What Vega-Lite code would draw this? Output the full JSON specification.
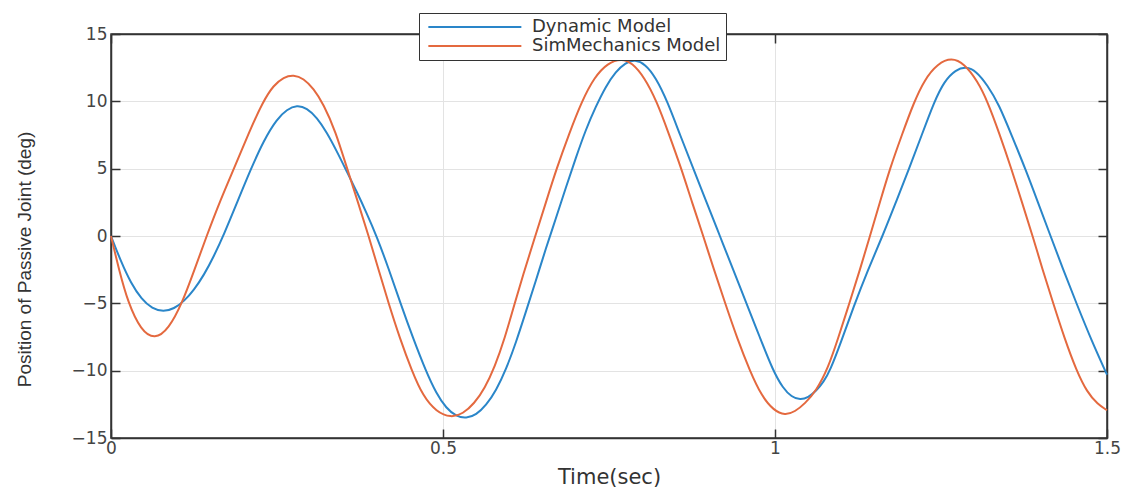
{
  "$schema": "https://vega.github.io/schema/vega-lite/v6.json",
  "width": 996,
  "height": 404,
  "autosize": {"type": "none"},
  "padding": {"left": 111, "top": 34, "right": 22, "bottom": 50},
  "background": "white",
  "config": {
    "view": {"stroke": "#333333", "strokeWidth": 1.5},
    "font": "DejaVu Sans"
  },
  "datasets": {
    "dyn": [
      {"t": 0.000, "deg": 0.0, "model": "Dynamic Model"}, {"t": 0.015, "deg": -1.9, "model": "Dynamic Model"}, {"t": 0.030, "deg": -3.5, "model": "Dynamic Model"}, {"t": 0.046, "deg": -4.7, "model": "Dynamic Model"},
      {"t": 0.062, "deg": -5.4, "model": "Dynamic Model"}, {"t": 0.079, "deg": -5.63, "model": "Dynamic Model"}, {"t": 0.095, "deg": -5.4, "model": "Dynamic Model"}, {"t": 0.110, "deg": -4.85, "model": "Dynamic Model"},
      {"t": 0.125, "deg": -4.0, "model": "Dynamic Model"}, {"t": 0.140, "deg": -2.9, "model": "Dynamic Model"}, {"t": 0.155, "deg": -1.5, "model": "Dynamic Model"}, {"t": 0.170, "deg": 0.1, "model": "Dynamic Model"},
      {"t": 0.190, "deg": 2.5, "model": "Dynamic Model"}, {"t": 0.210, "deg": 4.9, "model": "Dynamic Model"}, {"t": 0.230, "deg": 7.1, "model": "Dynamic Model"}, {"t": 0.250, "deg": 8.7, "model": "Dynamic Model"},
      {"t": 0.265, "deg": 9.4, "model": "Dynamic Model"}, {"t": 0.280, "deg": 9.72, "model": "Dynamic Model"}, {"t": 0.295, "deg": 9.5, "model": "Dynamic Model"}, {"t": 0.310, "deg": 8.8, "model": "Dynamic Model"},
      {"t": 0.325, "deg": 7.7, "model": "Dynamic Model"}, {"t": 0.340, "deg": 6.3, "model": "Dynamic Model"}, {"t": 0.355, "deg": 4.8, "model": "Dynamic Model"}, {"t": 0.370, "deg": 3.3, "model": "Dynamic Model"},
      {"t": 0.385, "deg": 1.7, "model": "Dynamic Model"}, {"t": 0.400, "deg": 0.0, "model": "Dynamic Model"}, {"t": 0.418, "deg": -2.4, "model": "Dynamic Model"}, {"t": 0.436, "deg": -5.0, "model": "Dynamic Model"},
      {"t": 0.455, "deg": -7.6, "model": "Dynamic Model"}, {"t": 0.474, "deg": -10.0, "model": "Dynamic Model"}, {"t": 0.490, "deg": -11.7, "model": "Dynamic Model"}, {"t": 0.505, "deg": -12.8, "model": "Dynamic Model"},
      {"t": 0.520, "deg": -13.4, "model": "Dynamic Model"}, {"t": 0.535, "deg": -13.55, "model": "Dynamic Model"}, {"t": 0.550, "deg": -13.28, "model": "Dynamic Model"}, {"t": 0.565, "deg": -12.57, "model": "Dynamic Model"},
      {"t": 0.580, "deg": -11.47, "model": "Dynamic Model"}, {"t": 0.595, "deg": -9.9, "model": "Dynamic Model"}, {"t": 0.610, "deg": -7.9, "model": "Dynamic Model"}, {"t": 0.625, "deg": -5.6, "model": "Dynamic Model"},
      {"t": 0.640, "deg": -3.3, "model": "Dynamic Model"}, {"t": 0.655, "deg": -0.9, "model": "Dynamic Model"}, {"t": 0.670, "deg": 1.3, "model": "Dynamic Model"}, {"t": 0.685, "deg": 3.6, "model": "Dynamic Model"},
      {"t": 0.700, "deg": 5.8, "model": "Dynamic Model"}, {"t": 0.715, "deg": 7.9, "model": "Dynamic Model"}, {"t": 0.730, "deg": 9.6, "model": "Dynamic Model"}, {"t": 0.745, "deg": 11.1, "model": "Dynamic Model"},
      {"t": 0.760, "deg": 12.2, "model": "Dynamic Model"}, {"t": 0.775, "deg": 12.88, "model": "Dynamic Model"}, {"t": 0.789, "deg": 13.1, "model": "Dynamic Model"}, {"t": 0.805, "deg": 12.75, "model": "Dynamic Model"},
      {"t": 0.820, "deg": 11.8, "model": "Dynamic Model"}, {"t": 0.838, "deg": 10.0, "model": "Dynamic Model"}, {"t": 0.857, "deg": 7.5, "model": "Dynamic Model"}, {"t": 0.877, "deg": 5.0, "model": "Dynamic Model"},
      {"t": 0.897, "deg": 2.5, "model": "Dynamic Model"}, {"t": 0.917, "deg": 0.0, "model": "Dynamic Model"}, {"t": 0.937, "deg": -2.5, "model": "Dynamic Model"}, {"t": 0.957, "deg": -5.0, "model": "Dynamic Model"},
      {"t": 0.977, "deg": -7.5, "model": "Dynamic Model"}, {"t": 0.997, "deg": -10.0, "model": "Dynamic Model"}, {"t": 1.012, "deg": -11.3, "model": "Dynamic Model"}, {"t": 1.025, "deg": -11.95, "model": "Dynamic Model"},
      {"t": 1.038, "deg": -12.18, "model": "Dynamic Model"}, {"t": 1.050, "deg": -12.0, "model": "Dynamic Model"}, {"t": 1.062, "deg": -11.5, "model": "Dynamic Model"}, {"t": 1.073, "deg": -10.85, "model": "Dynamic Model"},
      {"t": 1.083, "deg": -10.0, "model": "Dynamic Model"}, {"t": 1.100, "deg": -7.8, "model": "Dynamic Model"}, {"t": 1.118, "deg": -5.3, "model": "Dynamic Model"}, {"t": 1.140, "deg": -2.5, "model": "Dynamic Model"},
      {"t": 1.162, "deg": 0.0, "model": "Dynamic Model"}, {"t": 1.182, "deg": 2.5, "model": "Dynamic Model"}, {"t": 1.202, "deg": 5.0, "model": "Dynamic Model"}, {"t": 1.221, "deg": 7.5, "model": "Dynamic Model"},
      {"t": 1.240, "deg": 10.0, "model": "Dynamic Model"}, {"t": 1.255, "deg": 11.5, "model": "Dynamic Model"}, {"t": 1.272, "deg": 12.35, "model": "Dynamic Model"}, {"t": 1.288, "deg": 12.58, "model": "Dynamic Model"},
      {"t": 1.303, "deg": 12.25, "model": "Dynamic Model"}, {"t": 1.320, "deg": 11.2, "model": "Dynamic Model"}, {"t": 1.337, "deg": 9.8, "model": "Dynamic Model"}, {"t": 1.357, "deg": 7.4, "model": "Dynamic Model"},
      {"t": 1.377, "deg": 5.0, "model": "Dynamic Model"}, {"t": 1.396, "deg": 2.5, "model": "Dynamic Model"}, {"t": 1.415, "deg": 0.0, "model": "Dynamic Model"}, {"t": 1.434, "deg": -2.5, "model": "Dynamic Model"},
      {"t": 1.454, "deg": -5.0, "model": "Dynamic Model"}, {"t": 1.477, "deg": -7.8, "model": "Dynamic Model"}, {"t": 1.500, "deg": -10.3, "model": "Dynamic Model"}
    ],
    "sim": [
      {"t": 0.000, "deg": 0.0, "model": "SimMechanics Model"}, {"t": 0.012, "deg": -2.5, "model": "SimMechanics Model"}, {"t": 0.026, "deg": -5.0, "model": "SimMechanics Model"}, {"t": 0.045, "deg": -7.0, "model": "SimMechanics Model"},
      {"t": 0.066, "deg": -7.7, "model": "SimMechanics Model"}, {"t": 0.087, "deg": -6.9, "model": "SimMechanics Model"}, {"t": 0.107, "deg": -5.0, "model": "SimMechanics Model"}, {"t": 0.125, "deg": -2.6, "model": "SimMechanics Model"},
      {"t": 0.144, "deg": 0.0, "model": "SimMechanics Model"}, {"t": 0.165, "deg": 2.7, "model": "SimMechanics Model"}, {"t": 0.186, "deg": 5.1, "model": "SimMechanics Model"}, {"t": 0.207, "deg": 7.6, "model": "SimMechanics Model"},
      {"t": 0.229, "deg": 10.0, "model": "SimMechanics Model"}, {"t": 0.245, "deg": 11.2, "model": "SimMechanics Model"}, {"t": 0.260, "deg": 11.8, "model": "SimMechanics Model"}, {"t": 0.275, "deg": 11.98, "model": "SimMechanics Model"},
      {"t": 0.290, "deg": 11.7, "model": "SimMechanics Model"}, {"t": 0.305, "deg": 10.95, "model": "SimMechanics Model"}, {"t": 0.320, "deg": 9.8, "model": "SimMechanics Model"}, {"t": 0.338, "deg": 7.8, "model": "SimMechanics Model"},
      {"t": 0.355, "deg": 5.1, "model": "SimMechanics Model"}, {"t": 0.372, "deg": 2.5, "model": "SimMechanics Model"}, {"t": 0.388, "deg": 0.0, "model": "SimMechanics Model"}, {"t": 0.403, "deg": -2.5, "model": "SimMechanics Model"},
      {"t": 0.418, "deg": -5.0, "model": "SimMechanics Model"}, {"t": 0.435, "deg": -7.6, "model": "SimMechanics Model"}, {"t": 0.453, "deg": -10.0, "model": "SimMechanics Model"}, {"t": 0.470, "deg": -11.9, "model": "SimMechanics Model"},
      {"t": 0.490, "deg": -13.05, "model": "SimMechanics Model"}, {"t": 0.512, "deg": -13.5, "model": "SimMechanics Model"}, {"t": 0.530, "deg": -13.2, "model": "SimMechanics Model"}, {"t": 0.547, "deg": -12.45, "model": "SimMechanics Model"},
      {"t": 0.563, "deg": -11.3, "model": "SimMechanics Model"}, {"t": 0.578, "deg": -9.7, "model": "SimMechanics Model"}, {"t": 0.593, "deg": -7.6, "model": "SimMechanics Model"}, {"t": 0.608, "deg": -5.0, "model": "SimMechanics Model"},
      {"t": 0.623, "deg": -2.5, "model": "SimMechanics Model"}, {"t": 0.639, "deg": 0.0, "model": "SimMechanics Model"}, {"t": 0.655, "deg": 2.5, "model": "SimMechanics Model"}, {"t": 0.671, "deg": 5.0, "model": "SimMechanics Model"},
      {"t": 0.690, "deg": 7.6, "model": "SimMechanics Model"}, {"t": 0.709, "deg": 10.0, "model": "SimMechanics Model"}, {"t": 0.728, "deg": 11.8, "model": "SimMechanics Model"}, {"t": 0.748, "deg": 12.85, "model": "SimMechanics Model"},
      {"t": 0.769, "deg": 13.18, "model": "SimMechanics Model"}, {"t": 0.785, "deg": 12.85, "model": "SimMechanics Model"}, {"t": 0.803, "deg": 11.8, "model": "SimMechanics Model"}, {"t": 0.822, "deg": 10.0, "model": "SimMechanics Model"},
      {"t": 0.840, "deg": 7.6, "model": "SimMechanics Model"}, {"t": 0.859, "deg": 5.0, "model": "SimMechanics Model"}, {"t": 0.875, "deg": 2.5, "model": "SimMechanics Model"}, {"t": 0.892, "deg": 0.0, "model": "SimMechanics Model"},
      {"t": 0.908, "deg": -2.5, "model": "SimMechanics Model"}, {"t": 0.925, "deg": -5.0, "model": "SimMechanics Model"}, {"t": 0.943, "deg": -7.6, "model": "SimMechanics Model"}, {"t": 0.962, "deg": -10.0, "model": "SimMechanics Model"},
      {"t": 0.980, "deg": -11.9, "model": "SimMechanics Model"}, {"t": 0.998, "deg": -12.95, "model": "SimMechanics Model"}, {"t": 1.015, "deg": -13.32, "model": "SimMechanics Model"}, {"t": 1.030, "deg": -13.05, "model": "SimMechanics Model"},
      {"t": 1.045, "deg": -12.45, "model": "SimMechanics Model"}, {"t": 1.062, "deg": -11.5, "model": "SimMechanics Model"}, {"t": 1.080, "deg": -9.8, "model": "SimMechanics Model"}, {"t": 1.095, "deg": -7.6, "model": "SimMechanics Model"},
      {"t": 1.112, "deg": -5.0, "model": "SimMechanics Model"}, {"t": 1.128, "deg": -2.5, "model": "SimMechanics Model"}, {"t": 1.143, "deg": 0.0, "model": "SimMechanics Model"}, {"t": 1.158, "deg": 2.5, "model": "SimMechanics Model"},
      {"t": 1.173, "deg": 5.0, "model": "SimMechanics Model"}, {"t": 1.191, "deg": 7.5, "model": "SimMechanics Model"}, {"t": 1.209, "deg": 9.9, "model": "SimMechanics Model"}, {"t": 1.225, "deg": 11.6, "model": "SimMechanics Model"},
      {"t": 1.245, "deg": 12.8, "model": "SimMechanics Model"}, {"t": 1.266, "deg": 13.25, "model": "SimMechanics Model"}, {"t": 1.285, "deg": 12.8, "model": "SimMechanics Model"}, {"t": 1.305, "deg": 11.5, "model": "SimMechanics Model"},
      {"t": 1.320, "deg": 10.0, "model": "SimMechanics Model"}, {"t": 1.338, "deg": 7.6, "model": "SimMechanics Model"}, {"t": 1.356, "deg": 5.0, "model": "SimMechanics Model"}, {"t": 1.372, "deg": 2.5, "model": "SimMechanics Model"},
      {"t": 1.388, "deg": 0.0, "model": "SimMechanics Model"}, {"t": 1.403, "deg": -2.5, "model": "SimMechanics Model"}, {"t": 1.419, "deg": -5.0, "model": "SimMechanics Model"}, {"t": 1.436, "deg": -7.6, "model": "SimMechanics Model"},
      {"t": 1.454, "deg": -10.0, "model": "SimMechanics Model"}, {"t": 1.470, "deg": -11.6, "model": "SimMechanics Model"}, {"t": 1.486, "deg": -12.5, "model": "SimMechanics Model"}, {"t": 1.500, "deg": -12.94, "model": "SimMechanics Model"}
    ]
  },
  "data": {"name": "dyn"},
  "resolve": {"axis": {"x": "independent", "y": "independent"}},
  "layer": [
    {
      "data": {"name": "dyn"},
      "mark": {"type": "line", "interpolate": "basis", "strokeWidth": 2},
      "encoding": {
        "x": {
          "field": "t", "type": "quantitative",
          "scale": {"domain": [0, 1.5], "nice": false, "zero": false},
          "axis": {
            "values": [0, 0.5, 1, 1.5], "format": "~g", "labelFlush": false,
            "title": "Time(sec)", "titleFont": "DejaVu Sans", "titleFontSize": 21, "titleFontWeight": "normal", "titleColor": "#333333",
            "titleY": 45, "titleBaseline": "alphabetic",
            "labelFontSize": 17, "labelColor": "#444444", "labelPadding": 11,
            "tickSize": -9, "tickColor": "#333333", "tickWidth": 1.5,
            "domainColor": "#333333", "domainWidth": 1.5,
            "grid": true, "gridColor": "#e3e3e3", "gridWidth": 1
          }
        },
        "y": {
          "field": "deg", "type": "quantitative",
          "scale": {"domain": [-15, 15], "nice": false, "zero": false},
          "axis": {
            "values": [-15, -10, -5, 0, 5, 10, 15], "labelFlush": false,
            "title": "Position of Passive Joint (deg)", "titleFont": "Liberation Sans", "titleFontSize": 19, "titleFontWeight": "normal", "titleColor": "#333333",
            "titleX": -87, "titleY": 225, "titleAngle": -90, "titleAlign": "center", "titleBaseline": "middle",
            "labelFontSize": 17, "labelColor": "#444444", "labelPadding": 13,
            "tickSize": -9, "tickColor": "#333333", "tickWidth": 1.5,
            "domainColor": "#333333", "domainWidth": 1.5,
            "grid": true, "gridColor": "#e3e3e3", "gridWidth": 1
          }
        },
        "color": {
          "field": "model", "type": "nominal",
          "scale": {"domain": ["Dynamic Model", "SimMechanics Model"], "range": ["#2a86c9", "#e4693f"]},
          "legend": {
            "title": null, "orient": "none", "legendX": 308, "legendY": -21,
            "symbolType": "M-1,0H19", "symbolSize": 86.5, "symbolStrokeWidth": 2,
            "labelFont": "DejaVu Sans", "labelFontSize": 18, "labelColor": "#333333", "labelLimit": 400,
            "fillColor": "white", "strokeColor": "#333333", "padding": 5, "rowPadding": 1, "labelOffset": 90
          }
        }
      }
    },
    {
      "data": {"name": "sim"},
      "mark": {"type": "line", "interpolate": "basis", "strokeWidth": 2},
      "encoding": {
        "x": {"field": "t", "type": "quantitative", "axis": null},
        "y": {"field": "deg", "type": "quantitative", "axis": null},
        "color": {"field": "model", "type": "nominal"}
      }
    },
    {
      "data": {"name": "dyn"},
      "mark": {"type": "line", "opacity": 0},
      "encoding": {
        "x": {
          "field": "t", "type": "quantitative",
          "axis": {"orient": "top", "values": [0, 0.5, 1, 1.5], "labels": false, "title": null, "grid": false,
            "tickSize": -9, "tickColor": "#333333", "tickWidth": 1.5, "domainColor": "#333333", "domainWidth": 1.5}
        },
        "y": {
          "field": "deg", "type": "quantitative",
          "axis": {"orient": "right", "values": [-15, -10, -5, 0, 5, 10, 15], "labels": false, "title": null, "grid": false,
            "tickSize": -9, "tickColor": "#333333", "tickWidth": 1.5, "domainColor": "#333333", "domainWidth": 1.5}
        }
      }
    }
  ]
}
